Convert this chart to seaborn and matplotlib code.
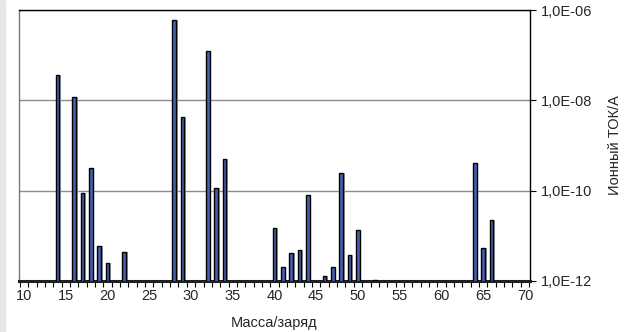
import numpy as np
import pandas as pd
import seaborn as sns
import matplotlib.pyplot as plt
from matplotlib.ticker import FixedLocator, NullLocator, FuncFormatter
from matplotlib.patches import Rectangle

sns.set_style("white")
plt.rcParams['font.family'] = ['Liberation Sans', 'DejaVu Sans']
plt.rcParams['font.size'] = 10.5

# масса/заряд и ионный ток, А
masses = [14, 16, 17, 18, 19, 20, 22, 28, 29, 32, 33, 34,
          40, 41, 42, 43, 44, 46, 47, 48, 49, 50, 52, 64, 65, 66]
currents = [3.7e-8, 1.2e-8, 9.0e-11, 3.2e-10, 5.9e-12, 2.5e-12, 4.4e-12,
            5.9e-7, 4.2e-9, 1.26e-7, 1.17e-10, 5.1e-10,
            1.48e-11, 2.0e-12, 4.1e-12, 4.8e-12, 8.2e-11, 1.3e-12, 2.0e-12,
            2.5e-10, 3.7e-12, 1.34e-11, 1.05e-12, 4.2e-10, 5.3e-12, 2.2e-11]
x_ticks = [10, 15, 20, 25, 30, 35, 40, 45, 50, 55, 60, 65, 70]
y_ticks = [1e-12, 1e-10, 1e-8, 1e-6]

df = pd.DataFrame({"mass": masses, "current": currents})

fig = plt.figure(figsize=(6.32, 3.32), dpi=100)
fig.patches.append(Rectangle((0, 0), 5 / 632, 1, transform=fig.transFigure,
                             color="#E6E6E6", zorder=0))
ax = fig.add_axes([19 / 632, 51 / 332, 511 / 632, 271 / 332])
ax.set_yscale("log")

# тень столбцов
shadow = df.assign(mass=df["mass"] + 0.18)
sns.barplot(data=shadow, x="mass", y="current", native_scale=True, width=0.47,
            color="#9C9C9C", saturation=1, linewidth=0, ax=ax, zorder=2)
sns.barplot(data=df, x="mass", y="current", native_scale=True, width=0.44,
            color="#4561B0", saturation=1, edgecolor="black", linewidth=1,
            ax=ax, zorder=3)

ax.set_xlim(9.4, 70.6)
ax.set_ylim(1e-12, 1e-6)

ax.xaxis.set_major_locator(FixedLocator(x_ticks))
ax.xaxis.set_minor_locator(FixedLocator(np.arange(9.5, 71, 1)))
ax.tick_params(axis="x", which="major", length=0, pad=6, labelsize=10.5)
ax.tick_params(axis="x", which="minor", length=4, width=0.8, color="black",
               direction="out", bottom=True)

ax.yaxis.tick_right()
ax.yaxis.set_label_position("right")
ax.yaxis.set_major_locator(FixedLocator(y_ticks))
ax.yaxis.set_minor_locator(NullLocator())
ax.yaxis.set_major_formatter(FuncFormatter(lambda v, p: f"{v:.1E}".replace(".", ",")))
ax.tick_params(axis="y", which="major", length=4, width=0.8, color="black",
               direction="out", right=True, left=False, pad=3.5, labelsize=10.5)

ax.grid(axis="y", which="major", color="#8C8C8C", linewidth=1)
ax.set_axisbelow(True)

for side in ["top", "right", "left"]:
    ax.spines[side].set_color("black")
    ax.spines[side].set_linewidth(1)
ax.spines["left"].set_color("#777777")
ax.spines["bottom"].set_color("#202020")
ax.spines["bottom"].set_linewidth(2.2)

ax.set_xlabel("Масса/заряд", fontsize=10.5)
ax.xaxis.set_label_coords(0.5, -0.128)
ax.set_ylabel("Ионный ТОК/А", fontsize=10.5)
ax.yaxis.set_label_coords(1.152, 0.5)

fig.savefig("out.png", dpi=100)
